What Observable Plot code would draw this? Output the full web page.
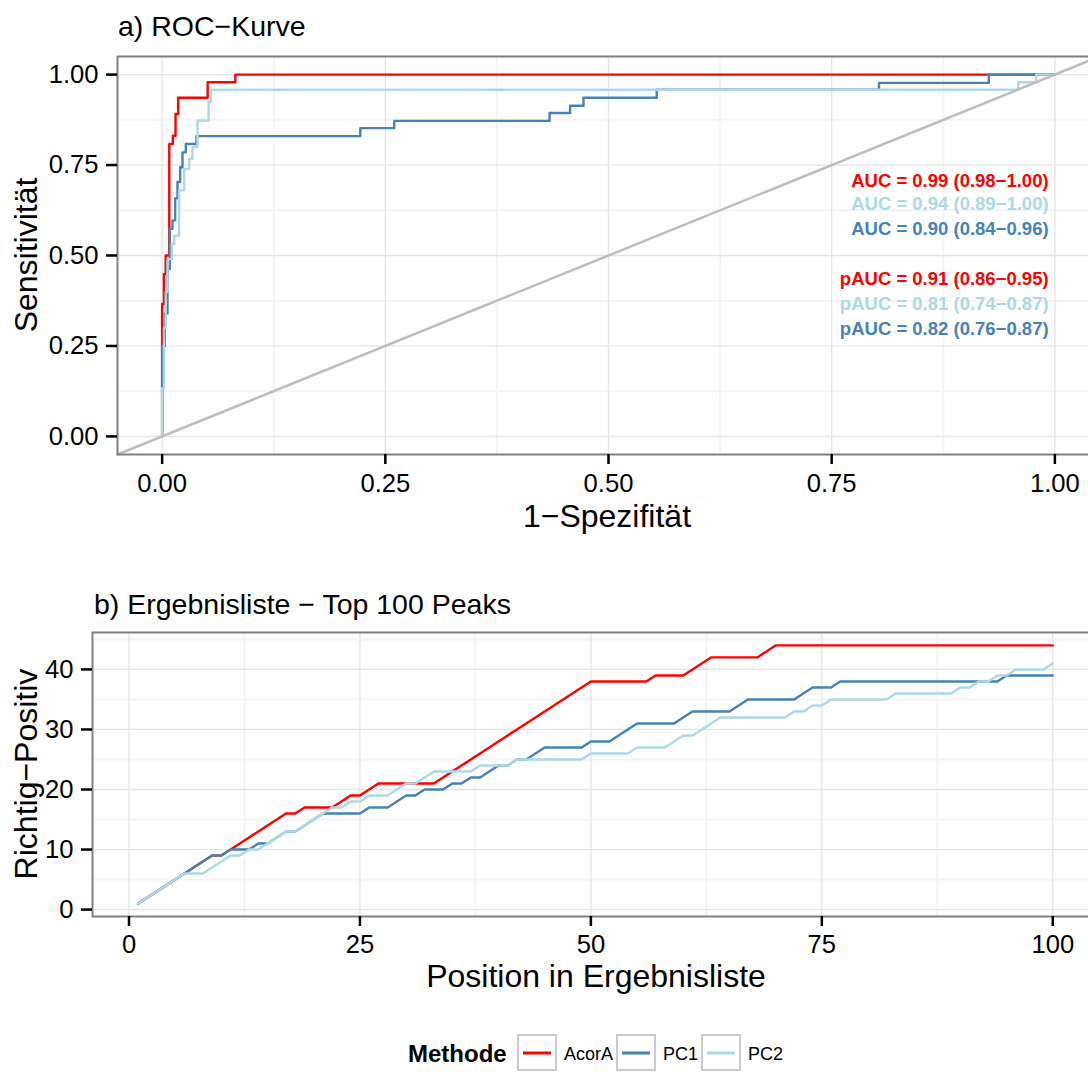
<!DOCTYPE html>
<html>
<head>
<meta charset="utf-8">
<script src="https://cdn.jsdelivr.net/npm/d3@7"></script>
<script src="https://cdn.jsdelivr.net/npm/@observablehq/plot@0.6"></script>
<style>
  html, body { margin: 0; padding: 0; background: #fff; overflow: hidden; }
  #page { position: relative; width: 1088px; height: 1072px; overflow: hidden; background: #fff;
          font-family: "Liberation Sans", Arial, Helvetica, sans-serif; }
  #page svg { position: absolute; left: 0; max-width: none !important; }
</style>
</head>
<body>
<div id="page"></div>
<script>
// ---------- data ----------
const methods = ["AcorA", "PC1", "PC2"];
const methodColors = ["#FF0000", "#4682B4", "#ADD8E6"];

// a) ROC curves: corner points of each step curve (1-specificity, sensitivity)
const rocAcorA_fpr = [0,0,0.002,0.002,0.004,0.004,0.008,0.008,0.012,0.012,0.015,0.015,0.018,0.018,0.051,0.051,0.082,0.082,1];
const rocAcorA_tpr = [0,0.366,0.366,0.449,0.449,0.50,0.50,0.808,0.808,0.831,0.831,0.891,0.891,0.936,0.936,0.979,0.979,1,1];

const rocPC1_fpr = [0,0,0.003,0.003,0.006,0.006,0.0086,0.0086,0.0116,0.0116,0.0146,0.0146,0.0172,0.0172,0.0202,0.0202,0.0228,0.0228,0.0265,0.0265,0.0385,0.0385,0.222,0.222,0.260,0.260,0.434,0.434,0.457,0.457,0.472,0.472,0.554,0.554,0.803,0.803,0.926,0.926,1];
const rocPC1_tpr = [0,0.25,0.25,0.34,0.34,0.463,0.463,0.574,0.574,0.597,0.597,0.658,0.658,0.703,0.703,0.744,0.744,0.785,0.785,0.808,0.808,0.830,0.830,0.852,0.852,0.872,0.872,0.894,0.894,0.914,0.914,0.936,0.936,0.958,0.958,0.977,0.977,1,1];

const rocPC2_fpr = [0,0,0.002,0.002,0.004,0.004,0.006,0.006,0.0108,0.0108,0.0135,0.0135,0.019,0.019,0.0247,0.0247,0.0303,0.0303,0.034,0.034,0.0396,0.0396,0.052,0.052,0.0546,0.0546,0.959,0.959,0.979,0.979,1];
const rocPC2_tpr = [0,0.133,0.133,0.30,0.30,0.40,0.40,0.49,0.49,0.532,0.532,0.555,0.555,0.68,0.68,0.739,0.739,0.767,0.767,0.80,0.80,0.873,0.873,0.924,0.924,0.958,0.958,0.979,0.979,1,1];

const aucLabels = [
  "AUC = 0.99 (0.98\u22121.00)",
  "AUC = 0.94 (0.89\u22121.00)",
  "AUC = 0.90 (0.84\u22120.96)",
  "pAUC = 0.91 (0.86\u22120.95)",
  "pAUC = 0.81 (0.74\u22120.87)",
  "pAUC = 0.82 (0.76\u22120.87)"
];
const aucLabelMethod = ["AcorA", "PC2", "PC1", "AcorA", "PC2", "PC1"];

// b) true positives among top-n peaks, n = 1..100
const tpAcorA = [1,2,3,4,5,6,7,8,9,9, 10,11,12,13,14,15,16,16,17,17, 17,17,18,19,19,20,21,21,21,21,
  21,21,21,22,23,24,25,26,27,28, 29,30,31,32,33,34,35,36,37,38, 38,38,38,38,38,38,39,39,39,39,
  40,41,42,42,42,42,42,42,43,44, 44,44,44,44,44,44,44,44,44,44, 44,44,44,44,44,44,44,44,44,44,
  44,44,44,44,44,44,44,44,44,44];
const tpPC1 = [1,2,3,4,5,6,7,8,9,9, 10,10,10,11,11,12,13,13,14,15, 16,16,16,16,16,17,17,17,18,19,
  19,20,20,20,21,21,22,22,23,24, 24,25,25,26,27,27,27,27,27,28, 28,28,29,30,31,31,31,31,31,32,
  33,33,33,33,33,34,35,35,35,35, 35,35,36,37,37,37,38,38,38,38, 38,38,38,38,38,38,38,38,38,38,
  38,38,38,38,39,39,39,39,39,39];
const tpPC2 = [1,2,3,4,5,6,6,6,7,8, 9,9,10,10,11,12,13,13,14,15, 16,17,17,18,18,19,19,19,20,21,
  21,22,23,23,23,23,23,24,24,24, 24,25,25,25,25,25,25,25,25,26, 26,26,26,26,27,27,27,27,28,29,
  29,30,31,32,32,32,32,32,32,32, 32,33,33,34,34,35,35,35,35,35, 35,35,36,36,36,36,36,36,36,37,
  37,38,38,39,39,40,40,40,40,41];

const rocTicks = [0, 0.25, 0.5, 0.75, 1];
const rocMinor = [0.125, 0.375, 0.625, 0.875];
const rankTicksX = [0, 25, 50, 75, 100];
const rankMinorX = [12.5, 37.5, 62.5, 87.5];
const rankTicksY = [0, 10, 20, 30, 40];
const rankMinorY = [5, 15, 25, 35, 45];

// ---------- build tables ----------
const colorOf = m => methodColors[methods.indexOf(m)];
const rocSeries = {
  AcorA: rocAcorA_fpr.map((f, i) => ({fpr: f, tpr: rocAcorA_tpr[i]})),
  PC1: rocPC1_fpr.map((f, i) => ({fpr: f, tpr: rocPC1_tpr[i]})),
  PC2: rocPC2_fpr.map((f, i) => ({fpr: f, tpr: rocPC2_tpr[i]}))
};
const tpSeries = {
  AcorA: tpAcorA.map((v, i) => ({pos: i + 1, tp: v})),
  PC1: tpPC1.map((v, i) => ({pos: i + 1, tp: v})),
  PC2: tpPC2.map((v, i) => ({pos: i + 1, tp: v}))
};
const rocDomain = [-0.05, 1.05];
const labelRows = aucLabels.map((t, i) => ({text: t, method: aucLabelMethod[i], row: i}));
const labelY = [0.707, 0.641, 0.572, 0.436, 0.367, 0.296];

const FONT = '"Liberation Sans", Arial, Helvetica, sans-serif';
const TICK_FS = 25.6;
const LW = 2.4;

// ---------- panel a ----------
const plotA = Plot.plot({
  width: 1100, height: 560,
  marginTop: 56, marginBottom: 106, marginLeft: 117, marginRight: 1,
  style: {fontFamily: FONT, background: "transparent", overflow: "visible", maxWidth: "none"},
  x: {domain: rocDomain},
  y: {domain: rocDomain},
  marks: [
    Plot.gridX(rocMinor, {stroke: "#f4f4f4", strokeOpacity: 1, strokeWidth: 2}),
    Plot.gridY(rocMinor, {stroke: "#f4f4f4", strokeOpacity: 1, strokeWidth: 2}),
    Plot.gridX(rocTicks, {stroke: "#e4e4e4", strokeOpacity: 1, strokeWidth: 1.3}),
    Plot.gridY(rocTicks, {stroke: "#e4e4e4", strokeOpacity: 1, strokeWidth: 1.3}),
    ...methods.map(m => Plot.line(rocSeries[m], {x: "fpr", y: "tpr", stroke: colorOf(m), strokeWidth: LW})),
    Plot.line(rocDomain, {x: d => d, y: d => d, stroke: "#bebebe", strokeWidth: 2.5}),
    Plot.text(labelRows, {x: () => 0.993, y: d => labelY[d.row], text: "text",
      fill: d => colorOf(d.method), textAnchor: "end", fontWeight: "bold", fontSize: 18.5}),
    Plot.frame({stroke: "#808080", strokeWidth: 2}),
    Plot.axisX(rocTicks, {tickFormat: d3.format(".2f"), tickSize: 10, tickPadding: 9,
      fontSize: TICK_FS, color: "black", strokeWidth: 2.5, label: null}),
    Plot.axisY(rocTicks, {tickFormat: d3.format(".2f"), tickSize: 11, tickPadding: 8,
      fontSize: TICK_FS, color: "black", strokeWidth: 2.5, label: null})
  ]
});
plotA.style.top = "0px";

// ---------- panel b ----------
const plotB = Plot.plot({
  width: 1100, height: 420,
  marginTop: 52, marginBottom: 84, marginLeft: 92, marginRight: 2,
  style: {fontFamily: FONT, background: "transparent", overflow: "visible", maxWidth: "none"},
  x: {domain: [-3.95, 104.95]},
  y: {domain: [-1.15, 46.15]},
  marks: [
    Plot.gridX(rankMinorX, {stroke: "#f4f4f4", strokeOpacity: 1, strokeWidth: 2}),
    Plot.gridY(rankMinorY, {stroke: "#f4f4f4", strokeOpacity: 1, strokeWidth: 2}),
    Plot.gridX(rankTicksX, {stroke: "#e4e4e4", strokeOpacity: 1, strokeWidth: 1.3}),
    Plot.gridY(rankTicksY, {stroke: "#e4e4e4", strokeOpacity: 1, strokeWidth: 1.3}),
    ...methods.map(m => Plot.line(tpSeries[m], {x: "pos", y: "tp", stroke: colorOf(m), strokeWidth: LW})),
    Plot.frame({stroke: "#808080", strokeWidth: 2}),
    Plot.axisX(rankTicksX, {tickSize: 10, tickPadding: 8, fontSize: TICK_FS, color: "black",
      strokeWidth: 2.5, label: null}),
    Plot.axisY(rankTicksY, {tickSize: 11, tickPadding: 8, fontSize: TICK_FS, color: "black",
      strokeWidth: 2.5, label: null})
  ]
});
plotB.style.top = "580px";

const page = document.getElementById("page");
page.appendChild(plotA);
page.appendChild(plotB);
[plotA, plotB].forEach(s => { s.style.maxWidth = "none"; s.style.width = "1100px"; });

// ---------- titles, axis titles, legend ----------
const over = d3.select(page).append("svg")
  .attr("width", 1088).attr("height", 1072)
  .style("top", "0px")
  .style("font-family", FONT);

function txt(x, y, s, size, opts = {}) {
  const t = over.append("text").attr("x", x).attr("y", y).text(s)
    .attr("font-size", size).attr("fill", opts.fill || "black")
    .attr("text-anchor", opts.anchor || "start");
  if (opts.bold) t.attr("font-weight", "bold");
  if (opts.rotate) t.attr("transform", `rotate(-90 ${x} ${y})`);
  return t;
}
txt(118, 36, "a) ROC\u2212Kurve", 28.5);
txt(94, 614, "b) Ergebnisliste \u2212 Top 100 Peaks", 28.5);
txt(607, 527, "1\u2212Spezifit\u00e4t", 32, {anchor: "middle"});
txt(596, 987, "Position in Ergebnisliste", 32, {anchor: "middle"});
txt(37, 255, "Sensitivit\u00e4t", 32, {anchor: "middle", rotate: true});
txt(37, 774, "Richtig\u2212Positiv", 32, {anchor: "middle", rotate: true});

// legend
txt(408, 1062, "Methode", 24, {bold: true});
const keyX = [518, 617, 702];
methods.forEach((m, i) => {
  over.append("rect").attr("x", keyX[i]).attr("y", 1035).attr("width", 38).attr("height", 35)
    .attr("fill", "white").attr("stroke", "#cccccc").attr("stroke-width", 2);
  over.append("line").attr("x1", keyX[i] + 5).attr("x2", keyX[i] + 33)
    .attr("y1", 1053).attr("y2", 1053).attr("stroke", methodColors[i]).attr("stroke-width", 3);
  txt(keyX[i] + 46, 1060, m, 18);
});
</script>
</body>
</html>
